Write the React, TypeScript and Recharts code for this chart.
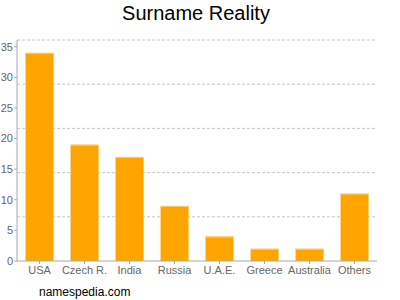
import { Bar, BarChart, CartesianGrid, XAxis, YAxis } from "recharts";

const countries = ["USA", "Czech R.", "India", "Russia", "U.A.E.", "Greece", "Australia", "Others"];
const counts = [34, 19, 17, 9, 4, 2, 2, 11];
const yTicks = [0, 5, 10, 15, 20, 25, 30, 35];
const yMax = 36.1;

const data = countries.map((name, i) => ({ name, count: counts[i] }));

const font = "'Liberation Sans', Arial, sans-serif";
const axisColor = "#aaa";
const tickStyle = { fill: "#666", fontSize: 11, fontFamily: font };

function OrangeBar(props: any) {
  const { x, y, width, height } = props;
  if (!height) return null;
  return (
    <g>
      <rect x={x} y={y} width={width} height={height} fill="#ffa500" />
      <line x1={x} x2={x + width} y1={y + 0.5} y2={y + 0.5} stroke="#ffcc70" />
    </g>
  );
}

// grid lines split the plot into five equal bands, not at the ticks
const gridRows = ({ offset }: any) =>
  [0, 1, 2, 3, 4].map((i) => offset.top + (offset.height * i) / 5);

export default function App() {
  return (
    <div style={{ position: "absolute", left: 0, top: 0, width: 400, height: 300, background: "#fff" }}>
      <BarChart
        width={400}
        height={300}
        data={data}
        margin={{ top: 40, right: 23, left: 0, bottom: 9 }}
        barCategoryGap="19%"
      >
        <CartesianGrid
          vertical={false}
          stroke="#c8c8c8"
          strokeDasharray="3 2"
          horizontalCoordinatesGenerator={gridRows}
        />
        <XAxis
          dataKey="name"
          height={30}
          interval={0}
          tick={tickStyle}
          tickSize={3}
          tickMargin={2}
          stroke={axisColor}
        />
        <YAxis
          width={17}
          domain={[0, yMax]}
          ticks={yTicks}
          tick={tickStyle}
          tickSize={3}
          tickMargin={1}
          stroke={axisColor}
        />
        <Bar dataKey="count" shape={<OrangeBar />} isAnimationActive={false} />
      </BarChart>
      <svg width={400} height={300} style={{ position: "absolute", left: 0, top: 0, pointerEvents: "none" }}>
        <text x={196} y={20} textAnchor="middle" fontSize={20} fontFamily={font} fill="#000">
          Surname Reality
        </text>
        <text x={39} y={296} fontSize={12} fontFamily={font} fill="#000">
          namespedia.com
        </text>
      </svg>
    </div>
  );
}
